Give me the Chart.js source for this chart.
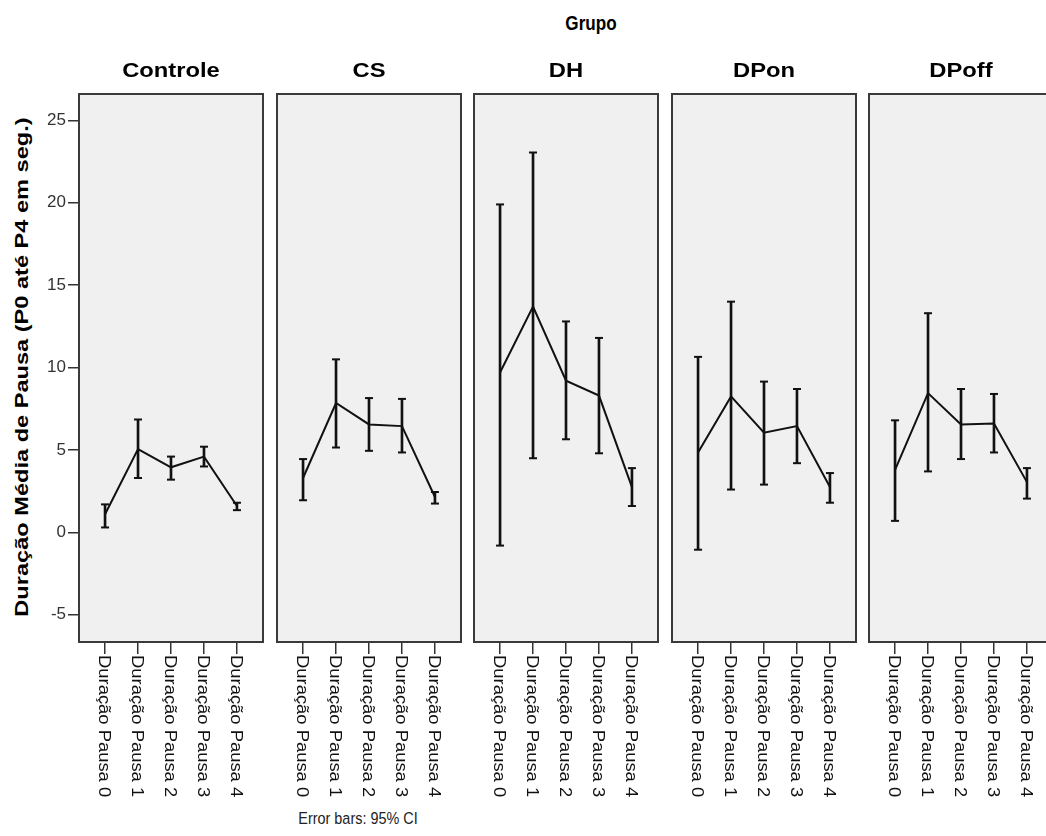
<!DOCTYPE html>
<html>
<head>
<meta charset="utf-8">
<script src="https://cdn.jsdelivr.net/npm/chart.js@4.4.1/dist/chart.umd.min.js"></script>
<style>
  html, body { margin: 0; padding: 0; background: #fff; }
  #wrap { position: relative; width: 1046px; height: 836px; overflow: hidden; font-family: "Liberation Sans", Arial, sans-serif; }
  #wrap canvas { position: absolute; top: 0; }
  .txt { position: absolute; white-space: nowrap; color: #000; transform-origin: center; }
  .bold { font-weight: bold; font-size: 18px; }
</style>
</head>
<body>
<div id="wrap">
  <div class="txt bold" id="grupo" style="left:591px; top:24px; transform: translate(-50%,-50%) scale(0.95, 1.12);">Grupo</div>
  <div class="txt bold" id="ytitle" style="left:22px; top:367px; transform: translate(-50%,-50%) rotate(-90deg) scaleX(1.31);">Duração Média de Pausa (P0 até P4 em seg.)</div>
  <div class="txt" id="foot" style="left:358px; top:818px; font-size:14px; color:#222; transform: translate(-50%,-50%) scale(1.03, 1.12);">Error bars: 95% CI</div>
</div>
<script>
// 데이터 ####################################################
const groups = ["Controle", "CS", "DH", "DPon", "DPoff"];
const pauseLabels = ["Duração Pausa 0", "Duração Pausa 1", "Duração Pausa 2", "Duração Pausa 3", "Duração Pausa 4"];
const yTicks = [-5, 0, 5, 10, 15, 20, 25];

// 평균 + 95% CI (하한 / 상한)
const meanControle = [1.1, 5.05, 3.95, 4.6, 1.6];
const lowControle = [0.3, 3.3, 3.2, 4.0, 1.35];
const highControle = [1.7, 6.85, 4.6, 5.2, 1.8];

const meanCS = [3.3, 7.85, 6.55, 6.45, 2.15];
const lowCS = [1.95, 5.15, 4.95, 4.85, 1.75];
const highCS = [4.45, 10.5, 8.15, 8.1, 2.45];

const meanDH = [9.7, 13.7, 9.2, 8.3, 2.75];
const lowDH = [-0.8, 4.5, 5.65, 4.8, 1.6];
const highDH = [19.9, 23.05, 12.8, 11.8, 3.9];

const meanDPon = [4.85, 8.25, 6.05, 6.45, 2.75];
const lowDPon = [-1.05, 2.6, 2.9, 4.2, 1.8];
const highDPon = [10.65, 14.0, 9.15, 8.7, 3.6];

const meanDPoff = [3.8, 8.45, 6.55, 6.6, 3.05];
const lowDPoff = [0.7, 3.7, 4.45, 4.85, 2.05];
const highDPoff = [6.8, 13.3, 8.7, 8.4, 3.9];

const panelMeans = [meanControle, meanCS, meanDH, meanDPon, meanDPoff];
const panelLows = [lowControle, lowCS, lowDH, lowDPon, lowDPoff];
const panelHighs = [highControle, highCS, highDH, highDPon, highDPoff];

// 레이아웃 ####################################################
const panelLeft = [79, 277, 474, 672, 869];
const panelWidth = 184;
const panelTop = 94;
const panelBottom = 642;
const H = 836;

// 패널 배경 + 테두리
const panelBox = {
  id: "panelBox",
  beforeDraw(chart) {
    const { ctx, chartArea: a } = chart;
    ctx.save();
    ctx.fillStyle = "#f0f0f0";
    ctx.fillRect(a.left, a.top, a.right - a.left, a.bottom - a.top);
    ctx.restore();
  },
  afterDraw(chart) {
    const { ctx, chartArea: a } = chart;
    ctx.save();
    ctx.strokeStyle = "#3a3a3a";
    ctx.lineWidth = 2;
    ctx.strokeRect(a.left, a.top, a.right - a.left, a.bottom - a.top);
    ctx.restore();
  },
};

// x축 라벨: 위에서 아래로 읽히게 시계방향 90도 회전
const pauseText = {
  id: "pauseText",
  afterDraw(chart) {
    const { ctx } = chart;
    const xs = chart.scales.x;
    ctx.save();
    ctx.font = "16px 'Liberation Sans', Arial, sans-serif";
    ctx.fillStyle = "#111";
    ctx.textAlign = "left";
    ctx.textBaseline = "middle";
    pauseLabels.forEach((label, i) => {
      ctx.save();
      ctx.translate(xs.getPixelForValue(i), chart.chartArea.bottom + 13);
      ctx.rotate(Math.PI / 2);
      ctx.scale(1.15, 1);
      ctx.fillText(label, 0, 2);
      ctx.restore();
    });
    ctx.restore();
  },
};

function makePanel(idx) {
  const wrap = document.getElementById("wrap");
  const first = idx === 0;
  const canvas = document.createElement("canvas");
  const left = first ? 0 : panelLeft[idx] - 6;
  const width = first ? panelLeft[0] + panelWidth + 7 : panelWidth + 12;
  canvas.width = width;
  canvas.height = H;
  canvas.style.left = left + "px";
  wrap.appendChild(canvas);

  // 패널 제목
  const title = document.createElement("div");
  title.className = "txt bold";
  title.textContent = groups[idx];
  title.style.left = panelLeft[idx] + panelWidth / 2 + "px";
  title.style.top = "71px";
  title.style.transform = "translate(-50%,-50%) scale(1.32, 1.08)";
  wrap.appendChild(title);

  const means = panelMeans[idx],
    lows = panelLows[idx],
    highs = panelHighs[idx];

  const config = {
    type: "line",
    data: {
      datasets: [
        {
          type: "line",
          data: means.map((v, k) => ({ x: k, y: v })),
          borderColor: "#111",
          borderWidth: 2,
          pointRadius: 0,
          tension: 0,
        },
        {
          type: "bar",
          data: lows.map((v, k) => ({ x: k, y: [v, highs[k]] })),
          backgroundColor: "#111",
          borderWidth: 0,
          barThickness: 2,
          grouped: false,
        },
        {
          type: "line",
          showLine: false,
          data: highs.map((v, k) => ({ x: k, y: v })).concat(lows.map((v, k) => ({ x: k, y: v }))),
          pointStyle: "line",
          pointRadius: 4,
          pointBorderWidth: 2,
          pointBorderColor: "#111",
        },
      ],
    },
    options: {
      responsive: false,
      animation: false,
      events: [],
      layout: {
        padding: { top: panelTop, bottom: 0, left: first ? 0 : 6, right: first ? 7 : 6 },
      },
      scales: {
        x: {
          type: "linear",
          min: -0.79,
          max: 4.79,
          offset: false,
          afterBuildTicks(scale) {
            scale.ticks = pauseLabels.map((l, i) => ({ value: i }));
          },
          afterFit(scale) {
            scale.height = H - panelBottom;
          },
          ticks: { display: false },
          grid: { drawOnChartArea: false, drawTicks: true, tickLength: 12, color: "#333", lineWidth: 1.5, offset: false },
          border: { display: false },
        },
        y: {
          display: first,
          min: -6.65,
          max: 26.6,
          afterBuildTicks(scale) {
            scale.ticks = yTicks.map((v) => ({ value: v }));
          },
          afterFit(scale) {
            if (first) scale.width = panelLeft[0];
          },
          ticks: {
            color: "#333",
            padding: 2,
            font: { family: "'Liberation Sans', Arial, sans-serif", size: 17 },
          },
          grid: { drawOnChartArea: false, drawTicks: true, tickLength: 11, color: "#333", lineWidth: 1.5 },
          border: { display: false },
        },
      },
      plugins: {
        legend: { display: false },
        tooltip: { enabled: false },
      },
    },
    plugins: [panelBox, pauseText],
  };

  new Chart(canvas.getContext("2d"), config);
}

groups.forEach((g, i) => makePanel(i));
</script>
</body>
</html>
